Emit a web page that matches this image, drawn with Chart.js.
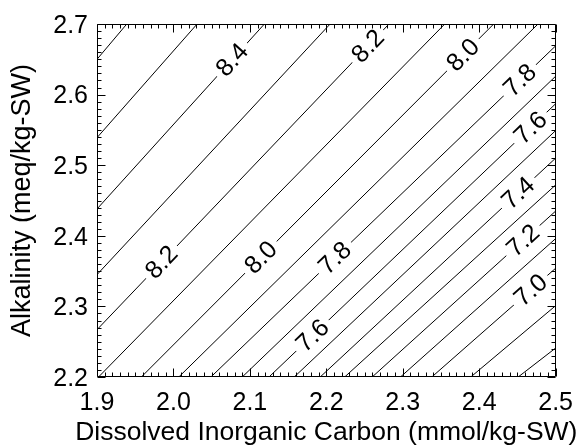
<!DOCTYPE html>
<html><head><meta charset="utf-8">
<script src="https://cdn.jsdelivr.net/npm/chart.js@4"></script>
<style>html,body{margin:0;padding:0;background:#fff}canvas{display:block}</style>
</head><body>
<canvas id="c" width="584" height="447"></canvas>
<script>
// ---- data ----
const xTickLabels = ['1.9','2.0','2.1','2.2','2.3','2.4','2.5'];
const yTickLabels = ['2.2','2.3','2.4','2.5','2.6','2.7'];
const xTitle = 'Dissolved Inorganic Carbon (mmol/kg-SW)';
const yTitle = 'Alkalinity (meq/kg-SW)';

// pH contour levels and where each line enters/leaves the plot (DIC, Alk)
const levels   = [8.6, 8.5, 8.4, 8.3, 8.2, 8.1, 8.0, 7.9, 7.8, 7.7, 7.6, 7.5, 7.4, 7.3, 7.2, 7.1, 7.0, 6.9, 6.8];
const dicStart = [1.900, 1.900, 1.900, 1.900, 1.900, 1.902, 1.958, 2.007, 2.049, 2.090, 2.125, 2.158, 2.192, 2.224, 2.260, 2.297, 2.338, 2.389, 2.451];
const alkStart = [2.650, 2.539, 2.438, 2.345, 2.267, 2.200, 2.200, 2.200, 2.200, 2.200, 2.200, 2.200, 2.200, 2.200, 2.200, 2.200, 2.200, 2.200, 2.200];
const dicEnd   = [1.939, 2.031, 2.119, 2.205, 2.282, 2.355, 2.419, 2.477, 2.500, 2.500, 2.500, 2.500, 2.500, 2.500, 2.500, 2.500, 2.500, 2.500, 2.500];
const alkEnd   = [2.700, 2.700, 2.700, 2.700, 2.700, 2.700, 2.700, 2.700, 2.669, 2.626, 2.587, 2.549, 2.510, 2.472, 2.435, 2.396, 2.354, 2.301, 2.241];

// contour labels: text and approximate location (DIC, Alk)
const labelText = ['8.4', '8.2', '8.0', '7.8', '7.6', '7.4', '7.2', '7.0', '8.2', '8.0', '7.8', '7.6'];
const labelDIC  = [2.076, 2.252, 2.378, 2.449, 2.467, 2.449, 2.455, 2.464, 1.985, 2.113, 2.209, 2.179];
const labelAlk  = [2.650, 2.671, 2.657, 2.625, 2.553, 2.463, 2.396, 2.327, 2.362, 2.371, 2.371, 2.262];

const FONT = '"Liberation Sans", Arial, Helvetica, sans-serif';

const datasets = levels.map((lv, i) => ({
  label: lv.toFixed(1),
  data: [{x: dicStart[i], y: alkStart[i]}, {x: dicEnd[i], y: alkEnd[i]}],
  showLine: true, borderColor: '#000', borderWidth: 1, pointRadius: 0,
  pointHoverRadius: 0, fill: false, tension: 0
}));

const contourLabels = {
  id: 'contourLabels',
  afterDatasetsDraw(chart) {
    const {ctx, scales: {x, y}} = chart;
    ctx.save();
    ctx.font = '25px ' + FONT;
    ctx.textAlign = 'center';
    ctx.textBaseline = 'middle';
    labelText.forEach((t, i) => {
      const k = levels.findIndex(l => l.toFixed(1) === t);
      if (k < 0) return;
      const x1 = x.getPixelForValue(dicStart[k]), y1 = y.getPixelForValue(alkStart[k]);
      const x2 = x.getPixelForValue(dicEnd[k]), y2 = y.getPixelForValue(alkEnd[k]);
      const px = x.getPixelForValue(labelDIC[i]), py = y.getPixelForValue(labelAlk[i]);
      const dx = x2 - x1, dy = y2 - y1;
      const tt = ((px - x1) * dx + (py - y1) * dy) / (dx * dx + dy * dy);
      const cx = x1 + tt * dx, cy = y1 + tt * dy;
      const ang = Math.atan2(dy, dx);
      ctx.save();
      ctx.translate(cx, cy);
      ctx.rotate(ang);
      const w = ctx.measureText(t).width;
      ctx.fillStyle = '#fff';
      ctx.fillRect(-w / 2 - 5, -5, w + 10, 10);
      ctx.fillStyle = '#000';
      ctx.fillText(t, 0, 1);
      ctx.restore();
    });
    ctx.restore();
  }
};

const frameTicks = {
  id: 'frameTicks',
  afterDraw(chart) {
    const {ctx, chartArea: a, scales: {x, y}} = chart;
    const L = Math.round(a.left) + 0.5, R = Math.round(a.right) - 0.5;
    const T = Math.round(a.top) + 0.5, B = Math.round(a.bottom) - 0.5;
    ctx.save();
    ctx.strokeStyle = '#000';
    ctx.lineWidth = 1;
    ctx.beginPath();
    ctx.rect(L, T, R - L, B - T);
    const xs = xTickLabels.map(Number), ys = yTickLabels.map(Number);
    function ticksFor(vals, cb) {
      for (let j = 0; j < vals.length; j++) {
        cb(vals[j], 8);
        if (j < vals.length - 1) {
          const step = (vals[j + 1] - vals[j]) / 10;
          for (let m = 1; m < 10; m++) cb(vals[j] + m * step, 4);
        }
      }
    }
    ticksFor(xs, (v, len) => {
      const p = Math.round(x.getPixelForValue(v)) + 0.5;
      ctx.moveTo(p, B); ctx.lineTo(p, B - len);
      ctx.moveTo(p, T); ctx.lineTo(p, T + len);
    });
    ticksFor(ys, (v, len) => {
      const p = Math.round(y.getPixelForValue(v)) + 0.5;
      ctx.moveTo(L, p); ctx.lineTo(L + len, p);
      ctx.moveTo(R, p); ctx.lineTo(R - len, p);
    });
    ctx.stroke();
    // x-axis title (drawn without Chart.js' maxWidth compression)
    ctx.fillStyle = '#000';
    ctx.font = '26.5px ' + FONT;
    ctx.textAlign = 'center';
    ctx.textBaseline = 'alphabetic';
    ctx.fillText(xTitle, (a.left + a.right) / 2, 440);
    ctx.restore();
  }
};

new Chart(document.getElementById('c'), {
  type: 'scatter',
  data: {datasets},
  options: {
    responsive: false,
    animation: false,
    events: [],
    layout: {padding: {top: 16, right: 21, left: 0, bottom: 0}},
    plugins: {legend: {display: false}, tooltip: {enabled: false}},
    scales: {
      x: {
        type: 'linear', min: 1.9, max: 2.5,
        afterBuildTicks: s => { s.ticks = xTickLabels.map(v => ({value: Number(v)})); },
        afterFit: s => { s.height = 70; },
        ticks: {
          callback: (v, i) => xTickLabels[i],
          font: {family: FONT, size: 25}, color: '#000',
          padding: 11, maxRotation: 0, autoSkip: false
        },
        grid: {display: false, drawTicks: false},
        border: {display: false},
        title: {display: false, text: xTitle}
      },
      y: {
        type: 'linear', min: 2.2, max: 2.7,
        afterBuildTicks: s => { s.ticks = yTickLabels.map(v => ({value: Number(v)})); },
        afterFit: s => { s.width = 97; },
        ticks: {
          callback: (v, i) => yTickLabels[i],
          font: {family: FONT, size: 25}, color: '#000',
          padding: 9, labelOffset: 2, autoSkip: false
        },
        grid: {display: false, drawTicks: false},
        border: {display: false},
        title: {display: true, text: yTitle, color: '#000',
                font: {family: FONT, size: 27}, padding: {top: 6, bottom: 0}}
      }
    }
  },
  plugins: [contourLabels, frameTicks]
});
</script>
</body></html>
